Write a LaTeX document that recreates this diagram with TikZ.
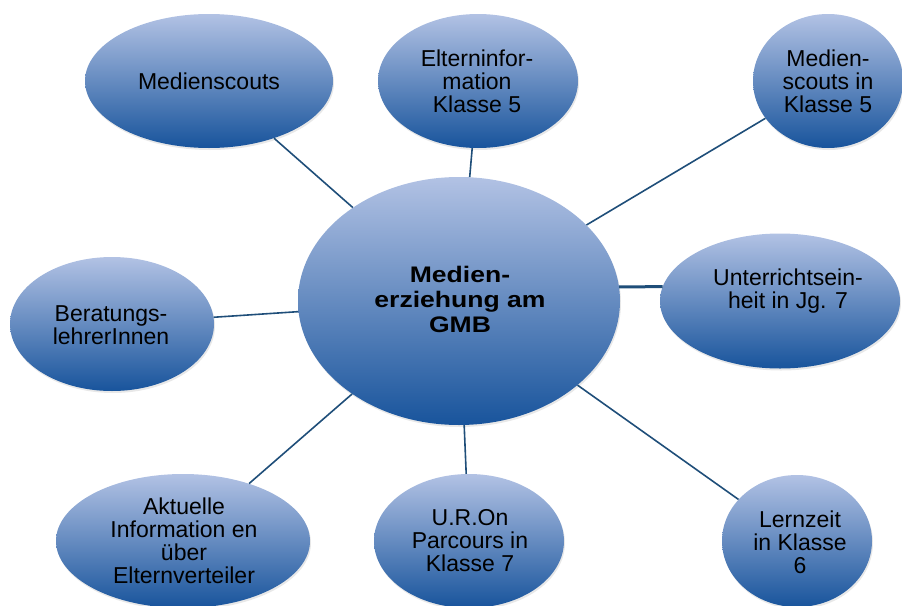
\documentclass[tikz,border=0pt]{standalone}
\usepackage{fontspec}
\setmainfont{Liberation Sans}
\newfontfamily\cfont[FakeStretch=1.18]{Liberation Sans}
\usetikzlibrary{shapes.geometric,shadows}
\definecolor{topc}{RGB}{178,194,228}
\definecolor{botc}{RGB}{24,84,156}
\definecolor{linec}{RGB}{31,78,121}
\begin{document}
\begin{tikzpicture}[x=1pt,y=-1pt,
  bubble/.style={ellipse, inner sep=0pt, draw=none, top color=topc, bottom color=botc,
    drop shadow={opacity=0.18, shadow xshift=1pt, shadow yshift=-2pt}},
  txt/.style={align=center, inner sep=0pt, text=black, font=\fontsize{23}{23}\selectfont},
  ctxt/.style={align=center, inner sep=0pt, text=black, font=\cfont\bfseries\fontsize{22.5}{25}\selectfont},
  conn/.style={draw=linec, line width=1.6pt}]
\useasboundingbox (0,0) rectangle (902,605);

\node[bubble, minimum width=248pt, minimum height=134pt] (ms) at (209,81) {};
\node[bubble, minimum width=200pt, minimum height=134pt] (el) at (478,81) {};
\node[bubble, minimum width=150pt, minimum height=134pt] (mk) at (828,81) {};
\node[bubble, minimum width=322pt, minimum height=248pt] (c) at (459,301) {};
\node[bubble, minimum width=240pt, minimum height=135pt] (u) at (780,301) {};
\node[bubble, minimum width=204pt, minimum height=134pt] (be) at (112,324) {};
\node[bubble, minimum width=254pt, minimum height=134pt] (ak) at (183,541) {};
\node[bubble, minimum width=190pt, minimum height=134pt] (ur) at (469,541) {};
\node[bubble, minimum width=150pt, minimum height=132pt] (lz) at (797,541) {};

\node[txt] (ms-t) at (209,81) {Medienscouts};
\node[txt] (el-t) at (477,81) {Elterninfor-\\mation\\Klasse 5};
\node[txt] (mk-t) at (828,81) {Medien-\\scouts in\\Klasse 5};
\node[ctxt] (c-t) at (460,299) {Medien-\\erziehung am\\GMB};
\node[txt] (u-t) at (788,291) {Unterrichtsein-\\heit in Jg. 7};
\node[txt] (be-t) at (111,325) {Beratungs-\\lehrerInnen};
\node[txt] (ak-t) at (184,541) {Aktuelle\\Information en\\über\\Elternverteiler};
\node[txt] (ur-t) at (470,541) {U.R.On\\Parcours in\\Klasse 7};
\node[txt] (lz-t) at (800,542) {Lernzeit\\in Klasse\\6};

\draw[conn] (ms) -- (c);
\draw[conn] (el) -- (c);
\draw[conn] (mk) -- (c);
\draw[conn] (be) -- (c);
\draw[conn] (ak) -- (c);
\draw[conn] (ur) -- (c);
\draw[conn] (lz) -- (c);
\draw[conn, line width=3pt] (c.5) -- (u.173);
\end{tikzpicture}
\end{document}
